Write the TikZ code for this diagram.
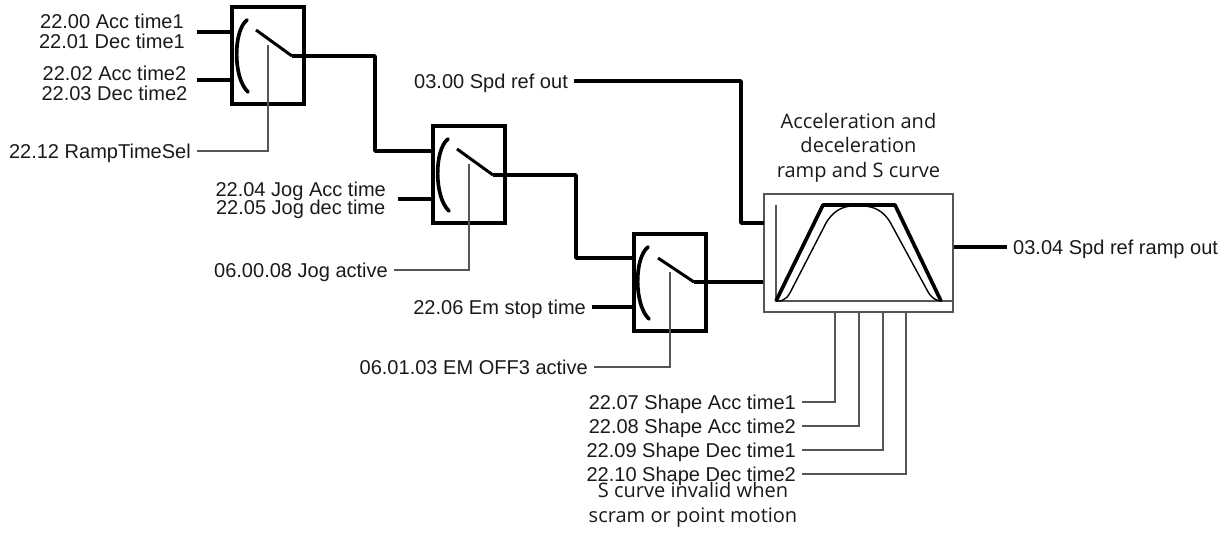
\documentclass[tikz,border=0pt]{standalone}
\usepackage{fontspec}
\setmainfont{Liberation Sans}
\newfontfamily\notefont{Open Sans}
\usepackage{xcolor}
\definecolor{darkslate}{RGB}{26, 26, 26}
\definecolor{midgray}{RGB}{85, 85, 85}
\usepackage{tikz}
\usetikzlibrary{arrows.meta, positioning, calc}
\tikzset{
    plabel/.style={text=darkslate, font=\fontsize{11.4}{11.4}\selectfont, align=center, inner sep=0pt, outer xsep=3.5pt},
    pline/.style={plabel, text height=8.2pt, text depth=0.2pt},
    note/.style={text=darkslate, font=\notefont\fontsize{11.4}{14}\selectfont, align=center, inner sep=0pt},
    switchbox/.style={draw=black, line width=2.1pt, minimum width=1.44cm, minimum height=1.94cm, inner sep=0pt},
    rampbox/.style={draw=midgray, line width=0.9pt, minimum width=3.78cm, minimum height=2.36cm, inner sep=0pt},
    signal/.style={line width=2.1pt, line join=round},
    selector/.style={line width=0.7pt, draw=midgray}
}
\begin{document}
\begin{tikzpicture}[x=0.02cm, y=-0.02cm]
    \useasboundingbox (0,0) rectangle (1223,533);
    % selector boxes
    \node[switchbox] (sw1) at (268,55.5) {};
    \node[switchbox] (sw2) at (469,174.5) {};
    \node[switchbox] (sw3) at (670,282.5) {};
    % ramp block
    \node[rampbox] (ramp) at (858.5,253) {};
    \node[note, above=6pt of ramp] (title) {Acceleration and\\deceleration\\ramp and S curve};
    % pivots of the switch arms
    \coordinate (p1) at (292,56);
    \coordinate (p2) at (493,175);
    \coordinate (p3) at (694,282);
    % input labels
    \node[plabel, anchor=east] (acc1) at (191,31.5) {22.00 Acc time1\\22.01 Dec time1};
    \node[plabel, anchor=east] (acc2) at (193.5,83) {22.02 Acc time2\\22.03 Dec time2};
    \node[plabel, anchor=east] (jog) at (392,200.5) {22.04 Jog Acc time\\[-1pt]22.05 Jog dec time};
    \node[pline, anchor=east] (stop) at (592,307) {22.06 Em stop time};
    \node[pline, anchor=east] (sel1) at (197,151) {22.12 RampTimeSel};
    \node[pline, anchor=east] (sel2) at (394,270) {06.00.08 Jog active};
    \node[pline, anchor=east] (sel3) at (594,367) {06.01.03 EM OFF3 active};
    \node[pline, anchor=east] (spd) at (574,81) {03.00 Spd ref out};
    \node[pline, anchor=west] (out) at (1007,247) {03.04 Spd ref ramp out};
    % shape time labels
    \node[pline, anchor=east] (sh1) at (802,402) {22.07 Shape Acc time1};
    \node[pline, anchor=east] (sh2) at (802,426) {22.08 Shape Acc time2};
    \node[pline, anchor=east] (sh3) at (802,450) {22.09 Shape Dec time1};
    \node[pline, anchor=east] (sh4) at (802,474) {22.10 Shape Dec time2};
    \node[note] (hint) at (693,505) {S curve invalid when\\scram or point motion};
    % thick signal lines
    \draw[signal] (197,32) -- (232,32);
    \draw[signal] (197,80) -- (232,80);
    \draw[signal] (398,199) -- (433,199);
    \draw[signal] (stop.east) -- (stop.east -| sw3.west);
    \draw[signal] (p1) -- (375,56) -- (375,151) -- (433,151);
    \draw[signal] (p2) -- (576,175) -- (576,258) -- (634,258);
    \draw[signal] (p3) -- (p3 -| ramp.west);
    \draw[signal] (spd.east) -- (741,81) -- (741,223) -- (764,223);
    \draw[signal] (ramp.east |- out.west) -- (out.west);
    % switch arms and contacts
    \draw[line width=1.7pt] (256,30) -- (p1);
    \draw[line width=1.7pt] (457,149) -- (p2);
    \draw[line width=1.7pt] (658,258) -- (p3);
    \draw[line width=2.1pt, line cap=round] (247,20) .. controls (233,31) and (233,78) .. (248,92);
    \draw[line width=2.1pt, line cap=round] (448,139) .. controls (434,150) and (434,197) .. (449,211);
    \draw[line width=2.1pt, line cap=round] (648,247) .. controls (634,258) and (634,305) .. (649,319);
    % selector lines
    \draw[selector] (sel1.east) -- (268,151) -- (268,45);
    \draw[selector] (sel2.east) -- (469,270) -- (469,164);
    \draw[selector] (sel3.east) -- (670,367) -- (670,272);
    \draw[selector] (sh1.east) -- (835,402) -- (835,312);
    \draw[selector] (sh2.east) -- (859,426) -- (859,312);
    \draw[selector] (sh3.east) -- (883,450) -- (883,312);
    \draw[selector] (sh4.east) -- (906,474) -- (906,312);
    % ramp curve
    \draw[midgray, line width=0.8pt] (776,205) -- (776,301) -- (953,301);
    \draw[line width=2.1pt, line join=round] (776,301) -- (823,205) -- (895,205) -- (941,301);
    \draw[line width=0.8pt] (776,301) .. controls (786,302) and (789,295) .. (793,287) -- (825,225)
        .. controls (832,211) and (843,206) .. (853,206) -- (862,206)
        .. controls (875,206) and (884,212) .. (890,222) -- (927,290)
        .. controls (931,298) and (936,301) .. (942,301);
\end{tikzpicture}
\end{document}
